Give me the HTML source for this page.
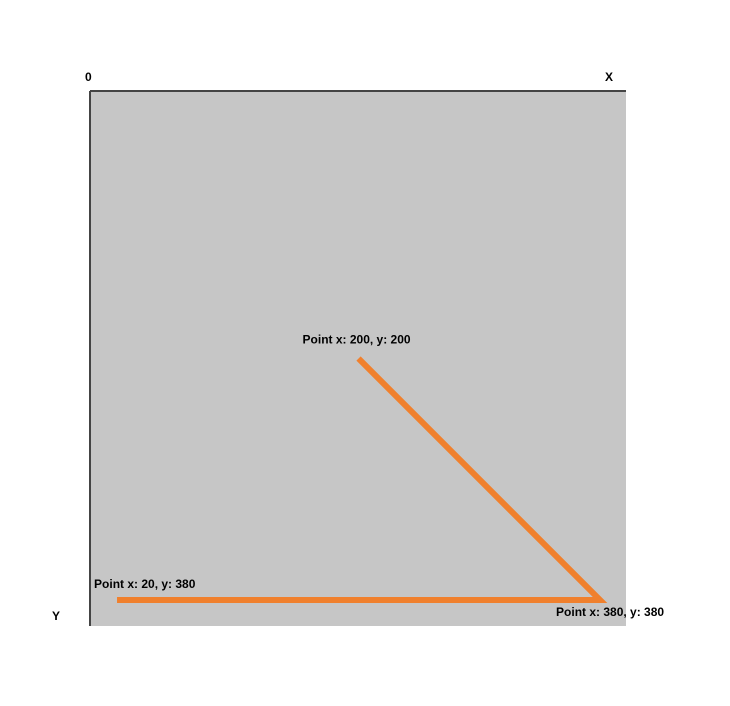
<!DOCTYPE html>
<html><head><meta charset="utf-8"><style>
html,body{margin:0;padding:0;background:#fff;width:730px;height:706px;overflow:hidden}
svg text{font-family:"Liberation Sans",sans-serif;font-weight:bold;font-size:12px;fill:#000}
</style></head><body>
<svg id="chart" width="730" height="706">
<rect x="90" y="91" width="536" height="535" fill="#c6c6c6"/>
<line x1="90" y1="91" x2="626" y2="91" stroke="#444" stroke-width="2"/>
<line x1="90" y1="91" x2="90" y2="626" stroke="#444" stroke-width="2"/>
<text x="85" y="81">0</text>
<text x="605" y="81">X</text>
<text x="52" y="620">Y</text>
<g id="marks"></g>
</svg>
<script>
const xs=[200,380,20];
const ys=[200,380,380];
const labelDx=[-56,-44,-23];
const labelDy=[-15,16,-12];
const ox=90.2,oy=90.2,sc=1.3417;
const X=v=>ox+v*sc, Y=v=>oy+v*sc;
const ns="http://www.w3.org/2000/svg";
const g=document.getElementById('marks');
const pl=document.createElementNS(ns,'polyline');
pl.setAttribute('points',xs.map((x,i)=>X(x)+','+Y(ys[i])).join(' '));
pl.setAttribute('fill','none');pl.setAttribute('stroke','#f0802d');pl.setAttribute('stroke-width','6');


g.appendChild(pl);
xs.forEach((x,i)=>{
 const t=document.createElementNS(ns,'text');
 t.setAttribute('x',X(x)+labelDx[i]);t.setAttribute('y',Y(ys[i])+labelDy[i]);
 t.textContent='Point x: '+x+', y: '+ys[i];
 
 
 g.appendChild(t);
});
</script>
</body></html>
